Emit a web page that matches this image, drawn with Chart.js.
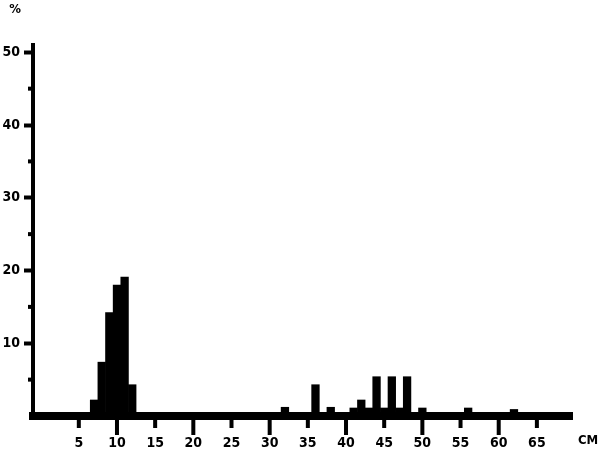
<!DOCTYPE html>
<html>
<head>
<meta charset="utf-8">
<script src="https://cdn.jsdelivr.net/npm/chart.js@4/dist/chart.umd.min.js"></script>
<style>
  body { margin: 0; background: #fff; }
  canvas { display: block; }
</style>
</head>
<body>
<canvas id="length_chart" width="599" height="452"></canvas>
<script>
// length frequency, % of catch per cm class

const LENGTHS_CM = [ 7, 8, 9, 10, 11, 12, 16, 18, 21, 24, 27, 30, 32, 36, 38, 41, 42, 43, 44, 45, 46, 47, 48, 50, 56, 62 ];
const PERCENTS = [ 2.2, 7.4, 14.2, 18, 19.1, 4.3, 0.3, 0.3, 0.3, 0.3, 0.3, 0.3, 1.2, 4.3, 1.2, 1.1, 2.2, 1.1, 5.4, 1.1, 5.4, 1.1, 5.4, 1.1, 1.1, 0.9 ];

const X_TICKS = [ 5, 10, 15, 20, 25, 30, 35, 40, 45, 50, 55, 60, 65 ];
const Y_TICKS = [ 10, 20, 30, 40, 50 ];
const Y_MINOR = [ 5, 15, 25, 35, 45 ];

const INK = '#000';
const FONT_FAMILY = '"DejaVu Sans Condensed", "DejaVu Sans", sans-serif';

function set_ticks( values ) {
  return function ( scale ) {
    scale.ticks = values.map( v => ( { value: v } ) );
  };
}

// tick marks under the x axis, minor y ticks, unit labels
const axis_extras = {
  id: 'axis_extras',
  afterDraw( chart ) {
    const ctx = chart.ctx;
    const area = chart.chartArea;
    const x_scale = chart.scales.x;
    const y_scale = chart.scales.y;
    ctx.save();
    ctx.fillStyle = INK;
    Y_MINOR.forEach( v => {
      const py = y_scale.getPixelForValue( v );
      ctx.fillRect( area.left - 5, py - 2, 5, 4 );
    } );
    X_TICKS.forEach( v => {
      const px = x_scale.getPixelForValue( v );
      const len = ( v % 10 === 0 ) ? 19 : 12;
      ctx.fillRect( px - 2, area.bottom, 4, len );
    } );
    ctx.font = 'bold 13px ' + FONT_FAMILY;
    ctx.textAlign = 'center';
    ctx.textBaseline = 'middle';
    ctx.fillText( '%', 15, 10 );
    ctx.fillText( 'CM', area.right + 16, 441 );
    ctx.restore();
  }
};

function create_chart( chart_id ) {
  const ctx = document.getElementById( chart_id ).getContext( '2d' );
  return new Chart( ctx, {
    type: 'bar',
    data: {
      datasets: [ {
        data: LENGTHS_CM.map( ( x, i ) => ( { x: x, y: PERCENTS[ i ] } ) ),
        backgroundColor: INK,
        borderWidth: 0,
        barPercentage: 1,
        categoryPercentage: 1
      } ]
    },
    options: {
      responsive: false,
      animation: false,
      devicePixelRatio: 1,
      layout: { padding: { top: 45, right: 27, left: 0, bottom: 0 } },
      plugins: {
        legend: { display: false },
        tooltip: { enabled: false }
      },
      scales: {
        x: {
          type: 'linear',
          min: -1,
          max: 69.6,
          offset: false,
          afterBuildTicks: set_ticks( X_TICKS ),
          afterFit: scale => { scale.height = 36; },
          border: { display: true, color: INK, width: 8 },
          grid: {
            offset: false,
            drawOnChartArea: false,
            drawTicks: false
          },
          ticks: {
            color: INK,
            padding: 19,
            maxRotation: 0,
            autoSkip: false,
            font: { family: FONT_FAMILY, size: 14, weight: 'bold' }
          }
        },
        y: {
          min: 0,
          max: 51,
          afterBuildTicks: set_ticks( Y_TICKS ),
          afterFit: scale => { scale.width = 33; },
          border: { display: true, color: INK, width: 4 },
          grid: {
            drawOnChartArea: false,
            tickLength: 9,
            tickWidth: 4,
            tickColor: INK
          },
          ticks: {
            color: INK,
            padding: 4,
            font: { family: FONT_FAMILY, size: 14, weight: 'bold' }
          }
        }
      }
    },
    plugins: [ axis_extras ]
  } );
}

document.addEventListener( 'DOMContentLoaded', function () {
  create_chart( 'length_chart' );
} );
</script>
</body>
</html>
